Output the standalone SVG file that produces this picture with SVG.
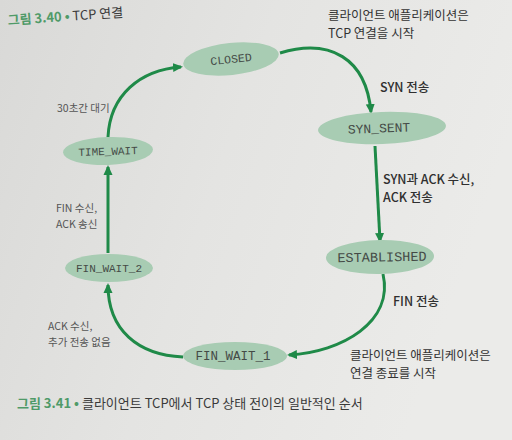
<svg xmlns="http://www.w3.org/2000/svg" width="512" height="440" viewBox="0 0 512 440">
<defs>
<linearGradient id="paper" x1="0" y1="0" x2="1" y2="0.3">
<stop offset="0" stop-color="#d9d9d7"/>
<stop offset="0.5" stop-color="#e4e4e2"/>
<stop offset="1" stop-color="#ebebe9"/>
</linearGradient>
<marker id="ah" viewBox="0 0 10 10" refX="8" refY="5" markerWidth="10" markerHeight="10" markerUnits="userSpaceOnUse" orient="auto">
<path d="M0,0.5 L10,5 L0,9.5 z" fill="#1f8a48"/>
</marker>
<style>
.node ellipse{fill:#a8ccb3;}
.node text{font-family:"Liberation Mono","DejaVu Sans Mono",monospace;fill:#444a46;text-anchor:middle;}
.edge{fill:none;stroke:#1f8a48;stroke-width:3;marker-end:url(#ah);}
.lbl{font-family:"Noto Sans CJK KR","Noto Sans",sans-serif;font-size:12.5px;fill:#333;}
.lblb{font-family:"Noto Sans CJK KR","Noto Sans",sans-serif;font-size:12.5px;font-weight:500;fill:#2f2f2f;}
.lbll{font-family:"Noto Sans CJK KR","Noto Sans",sans-serif;font-size:10.5px;fill:#555;}
.cap{font-family:"Noto Sans CJK KR","Noto Sans",sans-serif;font-size:13px;fill:#3a3a3a;}
.capg{fill:#4f9a68;font-weight:700;}
</style>
</defs>
<rect x="0" y="0" width="512" height="440" fill="url(#paper)"/>

<text class="cap" transform="translate(8,25) rotate(-4)" font-size="11.5"><tspan class="capg">그림 3.40</tspan><tspan class="capg"> • </tspan>TCP 연결</text>

<g id="connectors">
<path class="edge" d="M280,53 C330,38 366,58 371,112"/>
<path class="edge" d="M375,146 L380,241"/>
<path class="edge" d="M383,274 C394,322 342,352 289,355"/>
<path class="edge" d="M183,357 C138,355 108,330 108,285"/>
<path class="edge" d="M108,253 L108,167"/>
<path class="edge" d="M108,137 C110,95 140,70 181,67"/>
</g>

<g id="CLOSED" class="node" transform="rotate(-6 231 59)">
<ellipse cx="231" cy="59" rx="48" ry="16"/>
<text x="231" y="63" font-size="11.5">CLOSED</text>
</g>
<g id="SYN_SENT" class="node" transform="rotate(-2 382 128)">
<ellipse cx="382" cy="128" rx="64" ry="16"/>
<text x="379" y="132.5" font-size="13">SYN_SENT</text>
</g>
<g id="ESTABLISHED" class="node" transform="rotate(-1 380 257)">
<ellipse cx="380" cy="257" rx="54" ry="17"/>
<text x="382" y="261.5" font-size="13.5">ESTABLISHED</text>
</g>
<g id="FIN_WAIT_1" class="node">
<ellipse cx="235" cy="356" rx="52" ry="14"/>
<text x="233" y="360" font-size="12.5">FIN_WAIT_1</text>
</g>
<g id="FIN_WAIT_2" class="node">
<ellipse cx="109" cy="268" rx="44" ry="14"/>
<text x="109" y="272" font-size="11">FIN_WAIT_2</text>
</g>
<g id="TIME_WAIT" class="node" transform="rotate(-2 108 151)">
<ellipse cx="108" cy="151" rx="45" ry="14"/>
<text x="108" y="155" font-size="11">TIME_WAIT</text>
</g>

<g id="labels">
<text class="lbl" x="328" y="20">클라이언트 애플리케이션은</text>
<text class="lbl" x="328" y="38">TCP 연결을 시작</text>
<text class="lblb" x="380" y="92">SYN 전송</text>
<text class="lblb" x="383" y="184">SYN과 ACK 수신,</text>
<text class="lblb" x="383" y="202">ACK 전송</text>
<text class="lblb" x="393" y="306">FIN 전송</text>
<text class="lbl" x="350" y="360">클라이언트 애플리케이션은</text>
<text class="lbl" x="350" y="378">연결 종료를 시작</text>
<text class="lbll" x="48" y="330">ACK 수신,</text>
<text class="lbll" x="48" y="346">추가 전송 없음</text>
<text class="lbll" x="56" y="212" font-size="11.5">FIN 수신,</text>
<text class="lbll" x="56" y="228" font-size="11.5">ACK 송신</text>
<text class="lbll" x="57" y="112">30초간 대기</text>
</g>

<text class="cap" x="17" y="408"><tspan class="capg">그림 3.41</tspan><tspan class="capg"> • </tspan>클라이언트 TCP에서 TCP 상태 전이의 일반적인 순서</text>
</svg>
